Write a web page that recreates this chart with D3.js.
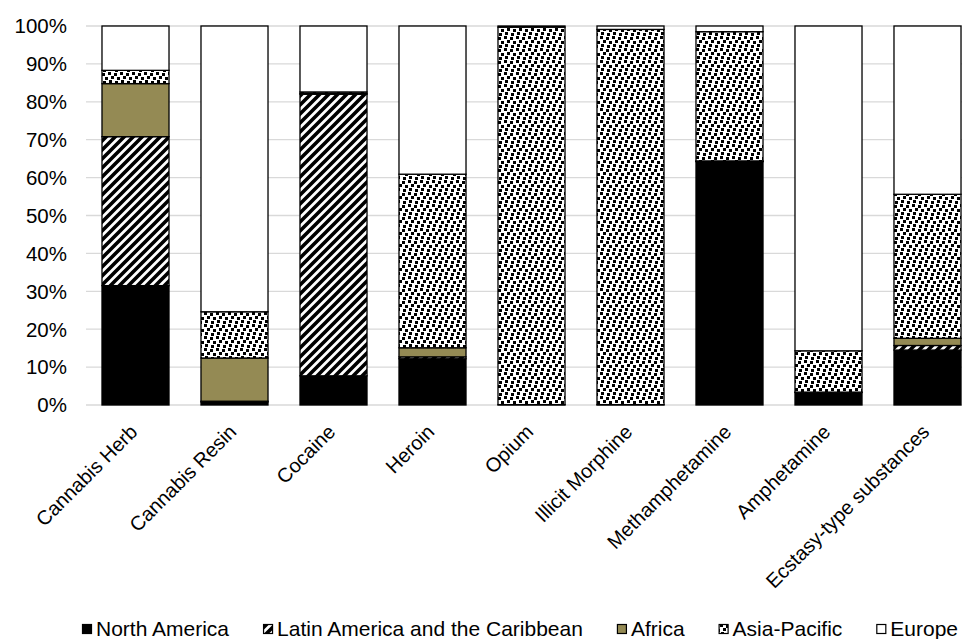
<!DOCTYPE html>
<html>
<head>
<meta charset="utf-8">
<script src="https://cdn.jsdelivr.net/npm/d3@7"></script>
<style>
  html, body { margin: 0; padding: 0; background: #fff; }
  svg { display: block; font-family: "Liberation Sans", Arial, sans-serif; }
</style>
</head>
<body>
<svg id="chart" width="962" height="639"></svg>
<script>
// Share of seizures by region, per drug type (percent of total)
const categories = ["Cannabis Herb", "Cannabis Resin", "Cocaine", "Heroin", "Opium",
  "Illicit Morphine", "Methamphetamine", "Amphetamine", "Ecstasy-type substances"];
const northAmerica = [31.5, 0.8, 7.7, 12.2, 0, 0, 64.2, 3.3, 14.5];
const latinAmerica = [39.3, 0.2, 74.3, 0.5, 0, 0, 0.1, 0, 1.2];
const africa = [14.0, 11.4, 0.2, 2.4, 0.1, 0.1, 0.1, 0.1, 1.9];
const asiaPacific = [3.5, 12.2, 0.4, 45.8, 99.6, 99.0, 34.1, 10.9, 38.0];
const europe = [11.7, 75.4, 17.4, 39.1, 0.3, 0.9, 1.5, 85.7, 44.4];
const seriesNames = ["North America", "Latin America and the Caribbean", "Africa", "Asia-Pacific", "Europe"];
const yTicks = [0, 10, 20, 30, 40, 50, 60, 70, 80, 90, 100];

const svg = d3.select("#chart");
const defs = svg.append("defs");

// Wide upward diagonal hatch
const hatch = defs.append("pattern").attr("id", "hatch")
  .attr("patternUnits", "userSpaceOnUse").attr("width", 9).attr("height", 9);
hatch.append("rect").attr("width", 9).attr("height", 9).attr("fill", "#fff");
hatch.append("path")
  .attr("d", "M-2,2 L2,-2 M0,9 L9,0 M7,11 L11,7")
  .attr("stroke", "#000").attr("stroke-width", 3.6);

// Large confetti
const confetti = defs.append("pattern").attr("id", "confetti")
  .attr("patternUnits", "userSpaceOnUse").attr("width", 12).attr("height", 12);
confetti.append("rect").attr("width", 12).attr("height", 12).attr("fill", "#fff");
[[0, 0], [6, 1], [3, 4], [9, 5], [1, 8], [7, 9]].forEach(([x, y]) => {
  confetti.append("rect").attr("x", x).attr("y", y).attr("width", 3).attr("height", 3).attr("fill", "#000");
});

const fills = ["#000000", "url(#hatch)", "#948a54", "url(#confetti)", "#ffffff"];

const rows = categories.map((c, i) => ({
  category: c,
  "North America": northAmerica[i],
  "Latin America and the Caribbean": latinAmerica[i],
  "Africa": africa[i],
  "Asia-Pacific": asiaPacific[i],
  "Europe": europe[i]
}));

const x = d3.scaleBand().domain(categories).range([86, 977])
  .paddingInner(0.323).paddingOuter(0.1615);
const y = d3.scaleLinear().domain([0, 100]).range([405, 26]);

// Gridlines
svg.append("g").selectAll("line").data(yTicks).join("line")
  .attr("x1", 86).attr("x2", 977)
  .attr("y1", d => y(d)).attr("y2", d => y(d))
  .attr("stroke", "#d9d9d9").attr("stroke-width", 1.3);

// Y axis labels
svg.append("g").selectAll("text").data(yTicks).join("text")
  .attr("x", 67).attr("y", d => y(d)).attr("dy", "0.36em")
  .attr("text-anchor", "end").attr("font-size", 20.5).attr("fill", "#000")
  .text(d => d + "%");

// Stacked bars
const stack = d3.stack().keys(seriesNames)(rows);
stack.forEach((layer, si) => {
  svg.append("g").selectAll("rect").data(layer.filter(d => d[1] - d[0] > 0)).join("rect")
    .attr("x", d => x(d.data.category))
    .attr("width", x.bandwidth())
    .attr("y", d => y(d[1]))
    .attr("height", d => y(d[0]) - y(d[1]))
    .attr("fill", fills[si])
    .attr("stroke", "#000").attr("stroke-width", 1.3);
});

// Category labels
svg.append("g").selectAll("text").data(categories).join("text")
  .attr("transform", d => `translate(${x(d) + x.bandwidth() / 2 - 2},${428}) rotate(-45)`)
  .attr("text-anchor", "end").attr("dy", "0.36em")
  .attr("font-size", 20).attr("fill", "#000")
  .text(d => d);

// Legend
const legend = svg.append("g");
let lx = 82;
seriesNames.forEach((name, i) => {
  legend.append("rect").attr("x", lx + 0.5).attr("y", 624.5).attr("width", 9).attr("height", 9)
    .attr("fill", fills[i]).attr("stroke", "#000").attr("stroke-width", 1.2);
  const t = legend.append("text").attr("x", lx + 14).attr("y", 636)
    .attr("font-size", 21).attr("fill", "#000").text(name);
  lx += 14 + t.node().getComputedTextLength() + 34;
});
</script>
</body>
</html>
